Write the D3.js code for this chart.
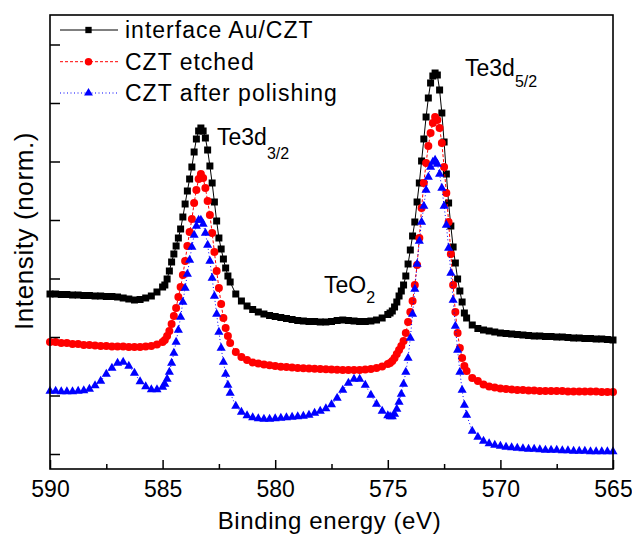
<!DOCTYPE html>
<html>
<head>
<meta charset="utf-8">
<script src="https://cdn.jsdelivr.net/npm/d3@7"></script>
<style>
  body { margin: 0; background: #fff; }
  svg { display: block; }
  text { font-family: "Liberation Sans", Arial, Helvetica, sans-serif; fill: #000; }
</style>
</head>
<body>
<svg id="chart" width="632" height="536"></svg>
<script>
// scan grid (eV): [start, end, step] -- 0.1 eV over the two Te3d peaks
var scanSegments = [
  [590, 585, 0.25],
  [584.9, 582, 0.1],
  [581.75, 575, 0.25],
  [574.9, 571.5, 0.1],
  [571.25, 565, 0.25]
];

// intensities, one value per grid point
var auCzt = [
  1.75,1.75,1.745,1.745,1.74,1.74,1.735,1.735,1.73,1.73,1.725,1.725,1.72,1.71,1.70,1.69,1.695,1.71,1.73,1.77,1.82,
  1.84,1.90,1.98,2.07,2.15,2.23,2.31,2.40,2.52,2.65,2.78,2.90,3.02,3.17,3.30,3.38,3.41,3.38,3.31,3.19,3.03,2.86,2.67,2.48,2.31,2.20,2.10,2.01,1.93,1.87,
  1.75,1.68,1.63,1.595,1.57,1.55,1.535,1.525,1.515,1.505,1.495,1.485,1.48,1.475,1.475,1.47,1.47,1.475,1.485,1.49,1.485,1.48,1.475,1.475,1.48,1.49,1.51,1.545,
  1.56,1.58,1.62,1.67,1.73,1.78,1.84,1.93,2.05,2.19,2.33,2.47,2.67,2.86,3.08,3.30,3.52,3.71,3.86,3.93,3.96,3.94,3.79,3.56,3.27,2.95,2.66,2.43,2.22,2.06,1.90,1.78,1.67,1.56,1.51,
  1.44,1.405,1.39,1.38,1.37,1.36,1.355,1.35,1.345,1.34,1.335,1.33,1.33,1.325,1.325,1.32,1.32,1.315,1.31,1.31,1.305,1.305,1.30,1.30,1.295,1.29
];
var etched = [
  1.27,1.27,1.26,1.26,1.25,1.25,1.24,1.24,1.235,1.23,1.23,1.225,1.225,1.225,1.22,1.22,1.22,1.225,1.23,1.245,1.27,
  1.29,1.33,1.38,1.45,1.53,1.61,1.72,1.82,1.94,2.08,2.23,2.37,2.50,2.66,2.79,2.90,2.95,2.91,2.81,2.68,2.54,2.36,2.17,1.98,1.81,1.65,1.51,1.41,1.33,1.26,
  1.17,1.12,1.09,1.065,1.055,1.045,1.037,1.03,1.023,1.02,1.015,1.01,1.007,1.005,1.003,1.00,0.997,0.995,0.992,0.99,0.99,0.99,0.99,0.995,1.00,1.01,1.025,1.05,
  1.06,1.08,1.11,1.15,1.19,1.23,1.28,1.36,1.47,1.57,1.68,1.84,2.04,2.31,2.61,2.86,3.06,3.23,3.36,3.46,3.52,3.49,3.41,3.26,3.02,2.76,2.47,2.15,1.84,1.57,1.36,1.21,1.11,1.03,0.98,
  0.91,0.88,0.845,0.825,0.815,0.805,0.80,0.795,0.79,0.79,0.785,0.785,0.78,0.78,0.78,0.78,0.78,0.775,0.775,0.775,0.775,0.775,0.775,0.77,0.77,0.77
];
var polished = [
  0.78,0.78,0.775,0.775,0.775,0.78,0.785,0.80,0.835,0.88,0.95,1.01,1.06,1.07,1.03,0.96,0.875,0.825,0.795,0.795,0.82,
  0.85,0.90,0.97,1.06,1.16,1.27,1.39,1.52,1.67,1.81,1.95,2.09,2.22,2.34,2.43,2.49,2.49,2.45,2.36,2.24,2.08,1.91,1.73,1.55,1.37,1.21,1.07,0.95,0.84,0.76,
  0.63,0.57,0.535,0.515,0.505,0.50,0.50,0.505,0.51,0.515,0.52,0.525,0.53,0.54,0.56,0.58,0.605,0.645,0.71,0.79,0.86,0.90,0.90,0.84,0.74,0.65,0.58,0.535,
  0.525,0.525,0.55,0.60,0.67,0.75,0.85,0.97,1.11,1.31,1.55,1.80,2.05,2.28,2.47,2.63,2.79,2.92,3.02,3.07,3.09,3.05,2.95,2.81,2.63,2.44,2.21,1.96,1.69,1.43,1.19,0.97,0.79,0.64,0.54,
  0.38,0.32,0.28,0.255,0.24,0.23,0.22,0.215,0.21,0.205,0.20,0.20,0.195,0.19,0.19,0.19,0.185,0.185,0.18,0.18,0.18,0.175,0.175,0.175,0.175,0.175
];

var seriesNames = ["interface Au/CZT", "CZT etched", "CZT after polishing"];
var xTicksMajor = [590, 585, 580, 575, 570, 565];
var xTicksMinor = [587.5, 582.5, 577.5, 572.5, 567.5];
var yTicks = [0.15, 0.735, 1.32, 1.905, 2.49, 3.075, 3.66, 4.245];

var energy = [];
scanSegments.forEach(function (s) {
  var n = Math.round((s[0] - s[1]) / s[2]) + 1;
  for (var i = 0; i < n; i++) energy.push(+(s[0] - i * s[2]).toFixed(2));
});

var svg = d3.select("#chart");
var plotL = 50, plotR = 613, plotT = 15, plotB = 469;

var x = d3.scaleLinear().domain([590, 565]).range([plotL, plotR]);
var y = d3.scaleLinear().domain([0, 4.54]).range([plotB, plotT]);

var styles = [
  { color: "#000000", dash: null, symbol: d3.symbolSquare, size: 49, legendSize: 40 },
  { color: "#ff0000", dash: "3,2", symbol: d3.symbolCircle, size: 50, legendSize: 44 },
  { color: "#0000ff", dash: "1,2.5", symbol: d3.symbolTriangle, size: 36, legendSize: 34 }
];
var allValues = [auCzt, etched, polished];

var line = d3.line()
  .x(function (d) { return x(d.e); })
  .y(function (d) { return y(d.v); });

allValues.forEach(function (vals, k) {
  var st = styles[k];
  var pts = energy.map(function (e, i) { return { e: e, v: vals[i] }; });
  var g = svg.append("g").attr("class", "series");
  g.append("path")
    .datum(pts)
    .attr("d", line)
    .attr("fill", "none")
    .attr("stroke", st.color)
    .attr("stroke-width", 1)
    .attr("stroke-dasharray", st.dash);
  g.selectAll("path.mk")
    .data(pts)
    .enter().append("path")
    .attr("class", "mk")
    .attr("d", d3.symbol().type(st.symbol).size(st.size))
    .attr("fill", st.color)
    .attr("transform", function (d) { return "translate(" + x(d.e) + "," + y(d.v) + ")"; });
});

// axes (ticks point inward)
var xAxis = svg.append("g")
  .attr("transform", "translate(0," + plotB + ")")
  .call(d3.axisBottom(x).tickValues(xTicksMajor).tickSize(-9).tickPadding(12).tickFormat(d3.format("d")));
var xMinor = svg.append("g")
  .attr("transform", "translate(0," + plotB + ")")
  .call(d3.axisBottom(x).tickValues(xTicksMinor).tickSize(-5).tickFormat(""));
var yAxis = svg.append("g")
  .attr("transform", "translate(" + plotL + ",0)")
  .call(d3.axisLeft(y).tickValues(yTicks).tickSize(-10).tickFormat(""));

[xAxis, xMinor, yAxis].forEach(function (a) {
  a.select(".domain").remove();
  a.selectAll(".tick line").attr("stroke", "#000").attr("stroke-width", 1.5);
});
xAxis.selectAll(".tick text")
  .attr("font-size", 23)
  .attr("fill", "#000")
  .style("font-family", "'Liberation Sans', Arial, sans-serif");

svg.append("rect")
  .attr("x", plotL).attr("y", plotT)
  .attr("width", plotR - plotL).attr("height", plotB - plotT)
  .attr("fill", "none")
  .attr("stroke", "#000")
  .attr("stroke-width", 1.6);

// axis titles
svg.append("text")
  .attr("x", (plotL + plotR) / 2 - 2)
  .attr("y", 529)
  .attr("text-anchor", "middle")
  .attr("font-size", 24)
  .attr("letter-spacing", 0.6)
  .text("Binding energy (eV)");

svg.append("text")
  .attr("transform", "translate(33,231) rotate(-90)")
  .attr("text-anchor", "middle")
  .attr("font-size", 26)
  .attr("letter-spacing", 0.6)
  .text("Intensity (norm.)");

// legend
var legendY = [30, 61.7, 93];
seriesNames.forEach(function (name, k) {
  var st = styles[k];
  var ly = legendY[k];
  svg.append("line")
    .attr("x1", 60).attr("x2", 118)
    .attr("y1", ly).attr("y2", ly)
    .attr("stroke", st.color)
    .attr("stroke-width", 1)
    .attr("stroke-dasharray", st.dash);
  svg.append("path")
    .attr("d", d3.symbol().type(st.symbol).size(st.legendSize))
    .attr("fill", st.color)
    .attr("transform", "translate(88.5," + ly + ")");
  svg.append("text")
    .attr("x", 125)
    .attr("y", ly + 8)
    .attr("font-size", 23)
    .attr("letter-spacing", 1)
    .text(name);
});

// peak labels
function peakLabel(px, py, main, sub, subDy) {
  var t = svg.append("text").attr("x", px).attr("y", py).attr("font-size", 23);
  t.append("tspan").text(main);
  t.append("tspan").attr("dy", subDy).attr("font-size", 16).text(sub);
}
peakLabel(217, 145, "Te3d", "3/2", 14);
peakLabel(465, 76, "Te3d", "5/2", 11);
peakLabel(324, 293, "TeO", "2", 10);
</script>
</body>
</html>
